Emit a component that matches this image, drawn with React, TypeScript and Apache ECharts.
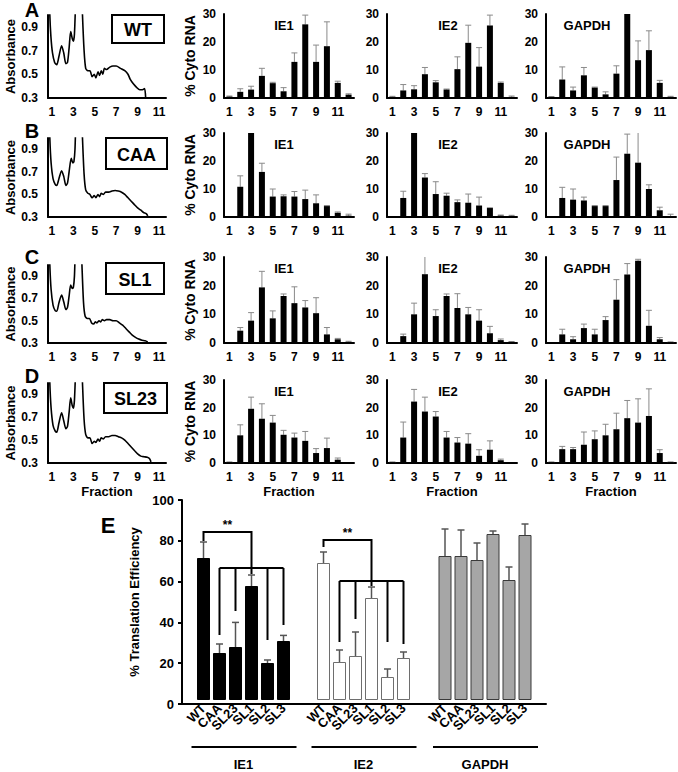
import React, { useEffect, useRef } from "react";
import * as echarts from "echarts";

const FONT = 'Arial, "Liberation Sans", Helvetica, sans-serif';

// ---------- DATA ----------
const fractions = ["1", "2", "3", "4", "5", "6", "7", "8", "9", "10", "11", "12"];
const rowNames = ["WT", "CAA", "SL1", "SL23"];
const panelLetters = ["A", "B", "C", "D"];
const geneNames = ["IE1", "IE2", "GAPDH"];
const absTicks = [0.3, 0.5, 0.7, 0.9];
const fractionTicks = [1, 3, 5, 7, 9, 11];

// Absorbance profiles [fraction, absorbance]
const absWT = [[0.72,1.3],[0.8,1.0],[0.9,0.82],[1.05,0.68],[1.25,0.6],[1.45,0.58],[1.65,0.65],[1.9,0.74],[2.1,0.68],[2.3,0.59],[2.45,0.6],[2.6,0.72],[2.75,0.86],[2.9,0.8],[3.0,0.78],[3.1,0.84],[3.25,1.2],[3.4,1.4],[3.7,1.4],[3.85,1.0],[4.0,0.7],[4.15,0.55],[4.35,0.53],[4.55,0.53],[4.75,0.48],[4.95,0.5],[5.1,0.47],[5.3,0.52],[5.45,0.49],[5.6,0.53],[5.75,0.5],[5.9,0.55],[6.1,0.54],[6.4,0.56],[6.7,0.57],[7.0,0.57],[7.4,0.55],[7.8,0.53],[8.1,0.5],[8.3,0.46],[8.6,0.42],[8.9,0.39],[9.2,0.37],[9.45,0.37],[9.65,0.38],[9.75,0.3]];
const absCAA = [[0.72,1.3],[0.8,1.0],[0.92,0.78],[1.1,0.64],[1.3,0.59],[1.45,0.58],[1.65,0.64],[1.9,0.71],[2.1,0.66],[2.3,0.58],[2.45,0.6],[2.6,0.7],[2.8,0.82],[2.95,0.78],[3.05,0.79],[3.15,0.9],[3.25,1.2],[3.4,1.4],[3.7,1.4],[3.85,1.0],[4.0,0.68],[4.15,0.54],[4.35,0.51],[4.55,0.5],[4.75,0.47],[4.95,0.49],[5.1,0.47],[5.3,0.5],[5.45,0.48],[5.6,0.51],[5.8,0.5],[6.0,0.52],[6.3,0.52],[6.6,0.53],[6.9,0.535],[7.2,0.53],[7.5,0.52],[7.8,0.5],[8.1,0.47],[8.4,0.44],[8.7,0.41],[9.0,0.38],[9.3,0.36],[9.55,0.34],[9.8,0.33],[9.95,0.31]];
const absSL1 = [[0.72,1.3],[0.8,1.0],[0.92,0.78],[1.1,0.64],[1.3,0.59],[1.45,0.585],[1.65,0.66],[1.9,0.73],[2.1,0.67],[2.3,0.6],[2.45,0.62],[2.6,0.72],[2.75,0.82],[2.9,0.79],[3.0,0.8],[3.1,0.9],[3.2,1.2],[3.35,1.4],[3.65,1.4],[3.8,1.0],[3.95,0.66],[4.1,0.54],[4.3,0.52],[4.5,0.52],[4.7,0.48],[4.9,0.47],[5.05,0.49],[5.2,0.48],[5.4,0.5],[5.55,0.49],[5.7,0.51],[5.9,0.5],[6.1,0.51],[6.4,0.51],[6.7,0.5],[7.0,0.5],[7.3,0.48],[7.6,0.46],[7.9,0.43],[8.2,0.4],[8.5,0.37],[8.8,0.35],[9.1,0.335],[9.4,0.325],[9.7,0.32],[9.95,0.31]];
const absSL23 = [[0.72,1.3],[0.8,1.0],[0.92,0.78],[1.1,0.63],[1.3,0.58],[1.45,0.57],[1.65,0.65],[1.9,0.74],[2.1,0.67],[2.3,0.6],[2.45,0.62],[2.6,0.74],[2.75,0.87],[2.9,0.8],[3.0,0.78],[3.1,0.85],[3.25,1.2],[3.4,1.4],[3.7,1.4],[3.85,1.0],[4.0,0.68],[4.15,0.55],[4.35,0.52],[4.55,0.52],[4.75,0.47],[4.95,0.49],[5.1,0.48],[5.3,0.51],[5.45,0.49],[5.6,0.52],[5.8,0.51],[6.0,0.53],[6.3,0.53],[6.6,0.54],[6.9,0.54],[7.2,0.53],[7.5,0.52],[7.8,0.5],[8.1,0.47],[8.4,0.44],[8.7,0.41],[9.0,0.38],[9.3,0.36],[9.6,0.355],[9.9,0.35],[10.1,0.34],[10.25,0.31]];
const absCurves = [absWT, absCAA, absSL1, absSL23];

// % Cyto RNA per fraction (rows: WT, CAA, SL1, SL23)
const ie1Values = [
  [0.5, 2.2, 3.0, 7.9, 5.3, 2.4, 12.9, 26.3, 12.9, 18.5, 5.4, 1.2],
  [0, 10.8, 30.5, 16.1, 7.3, 7.4, 7.3, 6.4, 4.9, 3.9, 1.5, 0.5],
  [0, 4.3, 7.8, 19.4, 8.6, 16.4, 13.9, 12.4, 10.4, 3.0, 1.3, 0.4],
  [0.3, 10, 19.6, 16, 14.6, 10.2, 9.2, 8.0, 3.6, 5.4, 1.2, 0],
];
const ie1Errors = [
  [0.2, 1.1, 1.2, 2.7, 0.3, 1.3, 3.2, 3.3, 6.0, 8.7, 0.6, 0.3],
  [0, 3.9, 0, 3.1, 2.7, 0.5, 1.8, 3.2, 3.0, 0.2, 0.3, 0.5],
  [0, 1.1, 2.8, 5.6, 2.6, 0.7, 5.7, 2.4, 5.4, 2.4, 0.3, 0.2],
  [0.1, 3.8, 4.2, 5.4, 2.6, 1.6, 1.6, 3.4, 1.6, 3.6, 0.6, 0],
];
const ie2Values = [
  [0.4, 2.7, 3.1, 8.5, 5.6, 3.0, 10.3, 19.7, 11.2, 25.9, 5.4, 0.4],
  [0, 6.8, 31, 14.1, 8.2, 7.6, 5.3, 5.1, 4.1, 3.2, 0.5, 0.4],
  [0, 2.4, 10, 24, 9.4, 16.4, 12.2, 10, 7.8, 3.4, 1.0, 0.4],
  [0.3, 9.2, 22.2, 18.6, 16.8, 9.2, 7.4, 7.0, 2.6, 4.8, 1.0, 0],
];
const ie2Errors = [
  [0.2, 2.1, 1.3, 2.4, 0.6, 0.2, 4.4, 6.3, 6.8, 3.7, 0.3, 0.3],
  [0, 2.4, 0, 1.4, 4.4, 0.9, 0.8, 3.1, 3.0, 0.1, 0.2, 0.2],
  [0, 0.7, 3.9, 7, 2.2, 0.7, 5, 2.4, 3.8, 2.4, 0.4, 0.1],
  [0.1, 5.6, 4.4, 5.2, 1.8, 2.2, 1.8, 3.6, 2.2, 3.2, 0.4, 0],
];
const gapdhValues = [
  [0.4, 6.6, 2.7, 8.1, 3.7, 1.3, 8.7, 31, 13.5, 17.1, 5.4, 0.4],
  [0, 6.8, 6.2, 5.9, 3.9, 3.9, 13.2, 22.6, 19.4, 10, 2.4, 0.3],
  [0, 3.0, 1.3, 5.2, 3.0, 8.0, 15.1, 23.9, 28.7, 6.0, 1.3, 0.3],
  [0.3, 5, 5, 6.6, 8.6, 10, 12.2, 16.2, 14.6, 17, 3.6, 0.3],
];
const gapdhErrors = [
  [0.1, 4.5, 1.2, 2.8, 0.2, 0.9, 2.8, 0, 6.9, 6.9, 0.9, 0.2],
  [0, 3.8, 3.8, 1.2, 0.2, 0.2, 8.2, 7, 11, 1.5, 1.1, 0.7],
  [0, 1.8, 0.9, 1.4, 1.8, 1.2, 7, 3.8, 0.5, 5.4, 0.6, 0.1],
  [0.1, 1, 0.6, 4.6, 3, 4, 5.8, 6.4, 8.6, 9.8, 1.2, 0.1],
];
const geneValues = [ie1Values, ie2Values, gapdhValues];
const geneErrors = [ie1Errors, ie2Errors, gapdhErrors];

// Panel E: % Translation Efficiency
const teCategories = ["WT", "CAA", "SL23", "SL1", "SL2", "SL3"];
const teIE1 = [71, 23.5, 26.5, 57, 18.5, 29.5];
const teIE1Err = [8, 4.5, 12.3, 5.5, 1.5, 2.8];
const teIE2 = [68.5, 19, 22, 51, 11.5, 21];
const teIE2Err = [5.5, 6, 12, 5.5, 4, 3];
const teGAPDH = [72, 72, 70, 83, 60, 82.5];
const teGAPDHErr = [13.5, 13, 8.5, 1.5, 6.5, 5.5];
const teValues = [teIE1, teIE2, teGAPDH];
const teErrors = [teIE1Err, teIE2Err, teGAPDHErr];
const teYTicks = [0, 20, 40, 60, 80, 100];
// significance brackets (IE1, IE2)
const bracketTop = [84, 80];
const bracketLow = [66, 59.5];
const bracketEnds = [
  [79.5, 32.5, 44.5, 63, 30, 37.5],
  [76.5, 29, 40.5, 57, 29, 28],
];
const bracketMark = "**";

// ---------- LAYOUT ----------
const rowBarTop = [14, 133, 257, 380];
const rowAbsTop = [15, 138, 265, 383];
const rowBottom = [98, 217, 343, 463];
const colLeft = [224, 387, 546];
const colWidth = 130;
const titleDx = [60, 61, 41];
const absLeft = 48;
const absWidth = 118;
const boxes = [
  [112, 15, 52, 28],
  [106, 138, 61, 31],
  [106, 263, 58, 31],
  [104, 383, 63, 30],
];
const letterY = [10, 131, 257, 376];
const eLeft = 182, eTop = 500, eWidth = 364, eHeight = 204;
const groupLeft = [195.5, 315.5, 437];
const groupWidth = 96;

const tick = { color: "#000", fontWeight: "bold" as const, fontSize: 12, fontFamily: FONT };
const axisLine = { show: true, lineStyle: { color: "#000", width: 2 } };

function seg(a: number[], b: number[], stroke: string, w: number) {
  return { type: "line", shape: { x1: a[0], y1: a[1], x2: b[0], y2: b[1] }, style: { stroke, lineWidth: w } };
}

function errRender(stroke: string, w: number, half: number) {
  return (params: any, api: any) => {
    const x = api.value(0), v = api.value(1), e = api.value(2);
    if (!e) return { type: "group", children: [] };
    const p0 = api.coord([x, v]);
    const p1 = api.coord([x, v + e]);
    return {
      type: "group",
      children: [
        seg([p0[0], p0[1]], [p0[0], p1[1]], stroke, w),
        seg([p0[0] - half, p1[1]], [p0[0] + half, p1[1]], stroke, w),
      ],
    };
  };
}

function bracketRender(g: number) {
  return (params: any, api: any) => {
    const top = bracketTop[g], low = bracketLow[g], ends = bracketEnds[g];
    const c = (i: number, v: number) => api.coord([i, v]);
    const st = { stroke: "#000", lineWidth: 2, fill: "none" };
    const children: any[] = [];
    children.push({ type: "polyline", shape: { points: [c(0, ends[0]), c(0, top), c(3, top), c(3, low)] }, style: st });
    children.push({ type: "polyline", shape: { points: [c(1, low), c(5, low)] }, style: st });
    for (let i = 1; i <= 5; i++) {
      children.push({ type: "polyline", shape: { points: [c(i, low), c(i, ends[i])] }, style: st });
    }
    const a = c(0, top), b = c(3, top);
    children.push({
      type: "text",
      style: {
        text: bracketMark, x: (a[0] + b[0]) / 2, y: a[1] - 1,
        align: "center", verticalAlign: "bottom", textAlign: "center", textVerticalAlign: "bottom",
        fontSize: 12, fontWeight: "bold", fontFamily: FONT, fill: "#000",
      },
    });
    return { type: "group", children };
  };
}

function buildOption() {
  const grid: any[] = [], xAxis: any[] = [], yAxis: any[] = [], series: any[] = [], graphic: any[] = [];
  const nameStyle = { color: "#000", fontWeight: "bold", fontSize: 13, fontFamily: FONT };

  for (let r = 0; r < 4; r++) {
    // absorbance panel
    let gi = grid.length;
    grid.push({ left: absLeft, top: rowAbsTop[r], width: absWidth, height: rowBottom[r] - rowAbsTop[r] });
    xAxis.push({
      type: "value", gridIndex: gi, min: 0.63, max: 11.65,
      axisLine, axisTick: { show: false }, splitLine: { show: false },
      axisLabel: { ...tick, margin: 8, customValues: fractionTicks },
      name: r === 3 ? "Fraction" : "", nameLocation: "middle", nameGap: 22, nameTextStyle: nameStyle,
    });
    yAxis.push({
      type: "value", gridIndex: gi, min: 0.3, max: 1.0,
      axisLine, axisTick: { show: false }, splitLine: { show: false },
      axisLabel: { ...tick, margin: 10, customValues: absTicks, formatter: (v: number) => v.toFixed(1) },
      name: "Absorbance", nameLocation: "middle", nameRotate: 90, nameGap: 30, nameTextStyle: nameStyle,
    });
    series.push({
      type: "line", xAxisIndex: gi, yAxisIndex: gi, data: absCurves[r], symbol: "none",
      smooth: 0.25, clip: true, lineStyle: { color: "#000", width: 1.6 },
    });

    // bar panels
    for (let c = 0; c < 3; c++) {
      gi = grid.length;
      grid.push({ left: colLeft[c], top: rowBarTop[r], width: colWidth, height: rowBottom[r] - rowBarTop[r] });
      xAxis.push({
        type: "category", gridIndex: gi, data: fractions,
        axisLine, axisTick: { show: false },
        axisLabel: { ...tick, margin: 8, interval: 1 },
        name: r === 3 ? "Fraction" : "", nameLocation: "middle", nameGap: 22, nameTextStyle: nameStyle,
      });
      yAxis.push({
        type: "value", gridIndex: gi, min: 0, max: 30, interval: 10,
        axisLine, axisTick: { show: false }, splitLine: { show: false },
        axisLabel: { ...tick, margin: 8 },
        name: c === 0 ? "% Cyto RNA" : "", nameLocation: "middle", nameRotate: 90, nameGap: 27,
        nameTextStyle: { ...nameStyle, fontSize: 14 },
      });
      const vals = geneValues[c][r];
      const errs = geneErrors[c][r];
      series.push({
        type: "bar", xAxisIndex: gi, yAxisIndex: gi, data: vals, barWidth: 6,
        itemStyle: { color: "#000" }, clip: true,
      });
      series.push({
        type: "custom", xAxisIndex: gi, yAxisIndex: gi, clip: true,
        data: vals.map((v, i) => [i, v, errs[i]]),
        renderItem: errRender("#8a8a8a", 1, 3),
      });
      graphic.push({
        type: "text", x: colLeft[c] + titleDx[c], y: rowBarTop[r] + 11,
        style: { text: geneNames[c], textAlign: "center", textVerticalAlign: "middle", align: "center", verticalAlign: "middle", fontSize: 13, fontWeight: "bold", fontFamily: FONT, fill: "#000" },
      });
    }

    // row label box and panel letter
    const [bx, by, bw, bh] = boxes[r];
    graphic.push({ type: "rect", shape: { x: bx, y: by, width: bw, height: bh }, style: { fill: "none", stroke: "#000", lineWidth: 2 } });
    graphic.push({
      type: "text", x: bx + bw / 2, y: by + bh / 2 + 1,
      style: { text: rowNames[r], textAlign: "center", textVerticalAlign: "middle", align: "center", verticalAlign: "middle", fontSize: 18, fontWeight: "bold", fontFamily: FONT, fill: "#000" },
    });
    graphic.push({
      type: "text", x: 32, y: letterY[r],
      style: { text: panelLetters[r], textAlign: "center", textVerticalAlign: "middle", align: "center", verticalAlign: "middle", fontSize: 20, fontWeight: "bold", fontFamily: FONT, fill: "#000" },
    });
  }

  // Panel E main grid (axes)
  const mi = grid.length;
  grid.push({ left: eLeft, top: eTop, width: eWidth, height: eHeight });
  xAxis.push({
    type: "value", gridIndex: mi, min: 0, max: 1, axisLine, axisTick: { show: false },
    axisLabel: { show: false }, splitLine: { show: false },
  });
  yAxis.push({
    type: "value", gridIndex: mi, min: teYTicks[0], max: teYTicks[teYTicks.length - 1], interval: 20,
    axisLine, axisTick: { show: true, length: 4, lineStyle: { color: "#000", width: 2 } },
    splitLine: { show: false }, axisLabel: { ...tick, fontSize: 13, margin: 8 },
    name: "% Translation Efficiency", nameLocation: "middle", nameRotate: 90, nameGap: 36, nameTextStyle: nameStyle,
  });

  const barStyles = [
    { color: "#000", borderColor: "#000", borderWidth: 1 },
    { color: "#fff", borderColor: "#6e6e6e", borderWidth: 1 },
    { color: "#a6a6a6", borderColor: "#3a3a3a", borderWidth: 1 },
  ];
  for (let g = 0; g < 3; g++) {
    const gi = grid.length;
    grid.push({ left: groupLeft[g], top: eTop, width: groupWidth, height: eHeight });
    xAxis.push({
      type: "category", gridIndex: gi, data: teCategories,
      axisLine: { show: false }, axisTick: { show: false },
      axisLabel: { ...tick, fontSize: 13, rotate: 45, margin: 6, interval: 0 },
      name: geneNames[g], nameLocation: "middle", nameGap: 58, nameTextStyle: { ...nameStyle, fontSize: 13 },
    });
    yAxis.push({ type: "value", gridIndex: gi, min: 0, max: 100, show: false, splitLine: { show: false } });
    series.push({
      type: "bar", xAxisIndex: gi, yAxisIndex: gi, data: teValues[g], barWidth: 13,
      itemStyle: barStyles[g], z: 3,
    });
    series.push({
      type: "custom", xAxisIndex: gi, yAxisIndex: gi, z: 2,
      data: teValues[g].map((v, i) => [i, v, teErrors[g][i]]),
      renderItem: errRender("#555", 1.5, 3.5),
    });
    if (g < 2) {
      series.push({
        type: "custom", xAxisIndex: gi, yAxisIndex: gi, z: 4,
        data: [[0, 0]], renderItem: bracketRender(g),
      });
    }
    graphic.push({
      type: "line", shape: { x1: groupLeft[g] - 4, y1: 747, x2: groupLeft[g] + groupWidth + 5, y2: 747 },
      style: { stroke: "#000", lineWidth: 2 },
    });
  }
  graphic.push({
    type: "text", x: 108, y: 525,
    style: { text: "E", textAlign: "center", textVerticalAlign: "middle", align: "center", verticalAlign: "middle", fontSize: 22, fontWeight: "bold", fontFamily: FONT, fill: "#000" },
  });

  return {
    animation: false,
    backgroundColor: "#fff",
    textStyle: { fontFamily: FONT },
    grid, xAxis, yAxis, series, graphic,
  };
}

export default function App() {
  const ref = useRef<HTMLDivElement>(null);
  useEffect(() => {
    document.body.style.margin = "0";
    const chart = echarts.init(ref.current!, null, { renderer: "svg" });
    chart.setOption(buildOption() as any);
    return () => chart.dispose();
  }, []);
  return <div ref={ref} style={{ width: 678, height: 772, background: "#fff" }} />;
}
